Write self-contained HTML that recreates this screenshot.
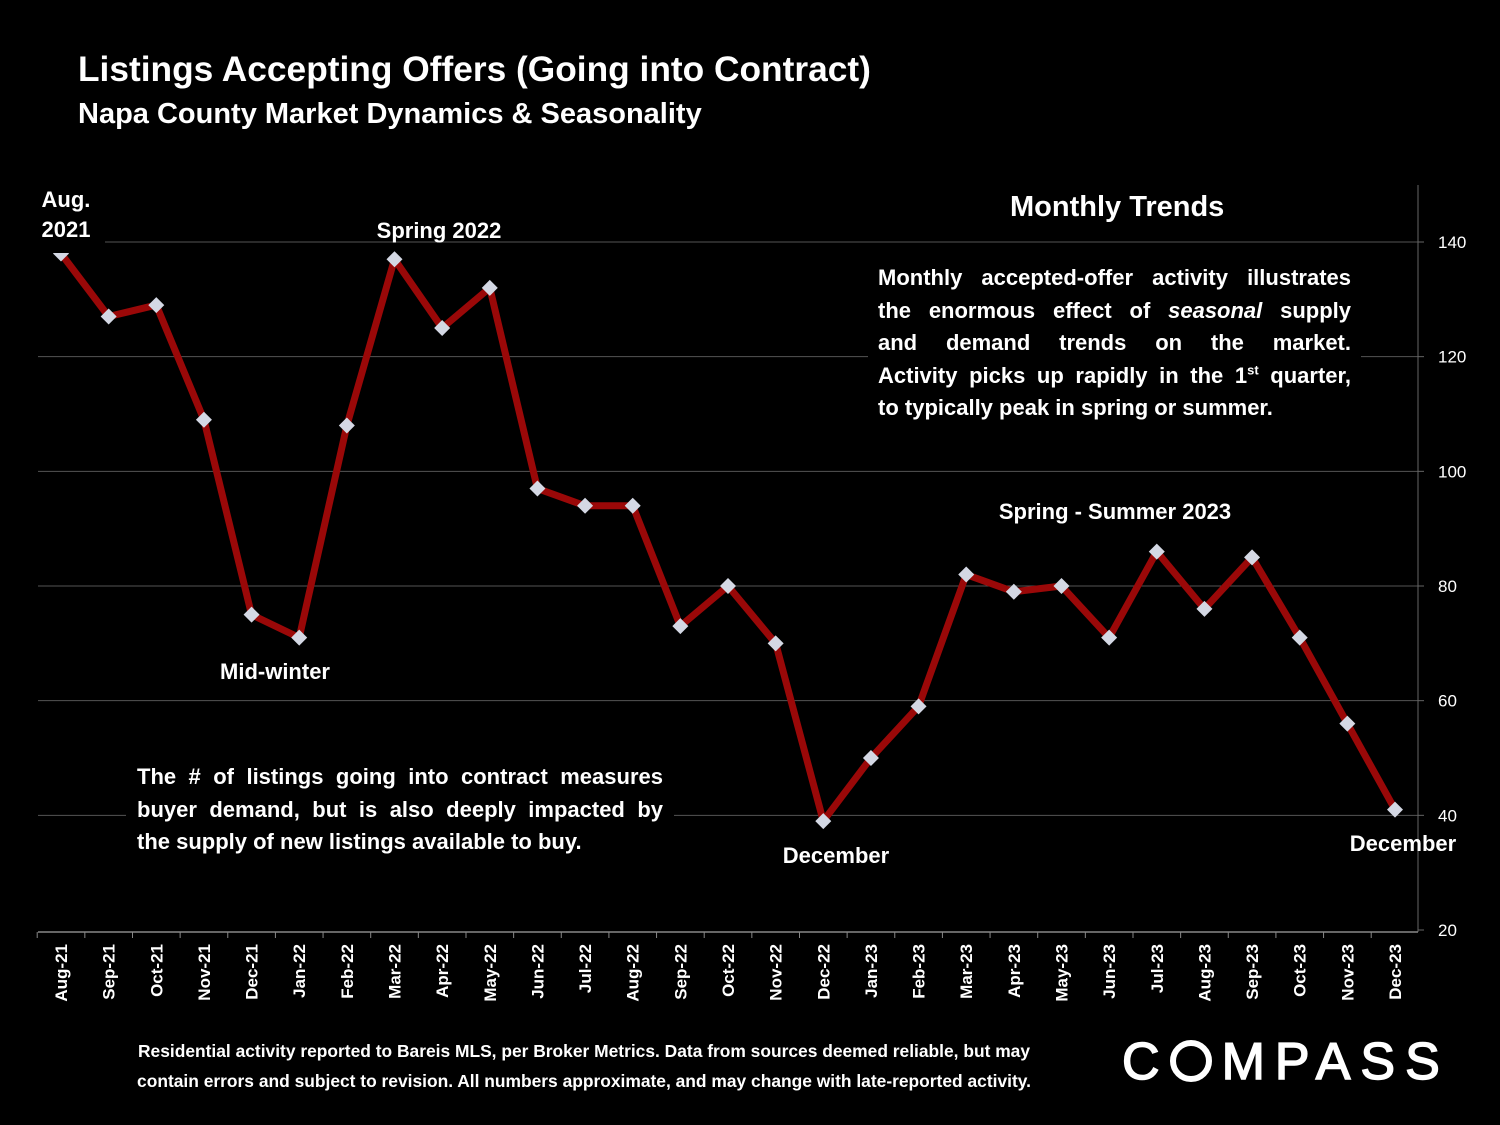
<!DOCTYPE html>
<html><head><meta charset="utf-8"><style>
html,body{margin:0;padding:0;background:#000;}
body{width:1500px;height:1125px;overflow:hidden;position:relative;font-family:"Liberation Sans",sans-serif;color:#fff;}
.t{position:absolute;font-weight:bold;white-space:nowrap;}
sup{line-height:0;}
.j{text-align:justify;text-align-last:justify;white-space:nowrap;}
.l{text-align:left;white-space:nowrap;}
</style></head><body>
<svg id="chart" width="1500" height="1125" style="position:absolute;left:0;top:0" xmlns="http://www.w3.org/2000/svg">
<g id="grid"></g>
<g id="axes"></g>
<g id="series"></g>
<g id="ann"></g>
</svg>
<div class="t" style="left:78px;top:50px;font-size:35.3px;">Listings Accepting Offers (Going into Contract)</div>
<div class="t" style="left:78px;top:98px;font-size:29px;">Napa County Market Dynamics &amp; Seasonality</div>
<div class="t" style="left:1010px;top:191px;font-size:29px;">Monthly Trends</div>
<div style="position:absolute;left:868px;top:262px;width:473px;padding:0 10px;background:#000;font-weight:bold;font-size:22px;line-height:32.5px;">
<div class="j">Monthly accepted-offer activity illustrates</div>
<div class="j">the enormous effect of <i>seasonal</i> supply</div>
<div class="j">and demand trends on the market.</div>
<div class="j">Activity picks up rapidly in the 1<sup style="font-size:13px">st</sup> quarter,</div>
<div class="l">to typically peak in spring or summer.</div>
</div>
<div style="position:absolute;left:126px;top:761px;width:526px;padding:0 11px;background:#000;font-weight:bold;font-size:22px;line-height:32.5px;">
<div class="j">The # of listings going into contract measures</div>
<div class="j">buyer demand, but is also deeply impacted by</div>
<div class="l">the supply of new listings available to buy.</div>
</div>
<div style="position:absolute;left:84px;top:1036px;width:1000px;text-align:center;font-weight:bold;font-size:17.4px;line-height:30px;white-space:nowrap;">Residential activity reported to Bareis MLS, per Broker Metrics. Data from sources deemed reliable, but may<br>contain errors and subject to revision. All numbers approximate, and may change with late-reported activity.</div>
<div style="position:absolute;left:1122px;top:1032px;font-size:52px;letter-spacing:10px;color:#fff;-webkit-text-stroke:1.5px #fff;font-family:'Liberation Sans',sans-serif;white-space:nowrap;">C<span style="display:inline-block;width:42px;height:42px;border:6px solid #fff;border-radius:50%;box-sizing:border-box;vertical-align:-3px;margin-right:10px;"></span>MPASS</div>
<script>
const months=["Aug-21","Sep-21","Oct-21","Nov-21","Dec-21","Jan-22","Feb-22","Mar-22","Apr-22","May-22","Jun-22","Jul-22","Aug-22","Sep-22","Oct-22","Nov-22","Dec-22","Jan-23","Feb-23","Mar-23","Apr-23","May-23","Jun-23","Jul-23","Aug-23","Sep-23","Oct-23","Nov-23","Dec-23"];
const values=[138,127,129,109,75,71,108,137,125,132,97,94,94,73,80,70,39,50,59,82,79,80,71,86,76,85,71,56,41];
const yTicks=[20,40,60,80,100,120,140];
const NS="http://www.w3.org/2000/svg";
const x=i=>61+i*(1395-61)/28;
const y=v=>930-(v-20)*(930-242)/120;
function mk(tag,attrs,parent){const e=document.createElementNS(NS,tag);for(const k in attrs)e.setAttribute(k,attrs[k]);parent.appendChild(e);return e;}
const grid=document.getElementById('grid'),axes=document.getElementById('axes'),ser=document.getElementById('series'),ann=document.getElementById('ann');
yTicks.forEach(v=>{
  if(v>20){const l=mk('line',{x1:38,x2:1418,y1:y(v),y2:y(v),stroke:'#555','stroke-width':1},grid);
  
  }
  const tk=mk('line',{x1:1418,x2:1424,y1:y(v),y2:y(v),stroke:'#666'},axes);
  
  
  const t=mk('text',{x:1438,y:y(v)+6,fill:'#fff','font-size':17,'font-family':'Liberation Sans, sans-serif'},axes);
  t.textContent=v;
  
  
});
const ya=mk('line',{x1:1418,x2:1418,y1:185,y2:932,stroke:'#666'},axes);


const xa=mk('line',{x1:38,x2:1418,y1:932,y2:932,stroke:'#888','stroke-width':1.5},axes);


months.forEach((m,i)=>{
  const b=x(i)-23.8;
  const tk=mk('line',{x1:b,x2:b,y1:932,y2:938,stroke:'#888'},axes);
  
  
  const t=mk('text',{x:0,y:0,fill:'#fff','font-size':17,'font-weight':'bold','font-family':'Liberation Sans, sans-serif','text-anchor':'end',transform:`translate(${x(i)+6},944) rotate(-90)`},axes);
  t.textContent=m;
  
  
});
const pl=mk('polyline',{points:values.map((v,i)=>x(i)+','+y(v)).join(' '),fill:'none',stroke:'#9a0808','stroke-width':7,'stroke-linejoin':'round'},ser);


values.forEach((v,i)=>{
  const cx=x(i),cy=y(v);
  const p=mk('polygon',{points:`${cx},${cy-8} ${cx+8},${cy} ${cx},${cy+8} ${cx-8},${cy}`,fill:'#d4d8e4'},ser);
  
  
});
const r=mk('rect',{x:30,y:185,width:75,height:68,fill:'#000'},ann);


const labels=[["Aug.",66,207],["2021",66,237],["Spring 2022",439,238],["Mid-winter",275,679],["December",836,863],["Spring - Summer 2023",1115,519],["December",1403,851]];
labels.forEach(l=>{
  const t=mk('text',{x:l[1],y:l[2],fill:'#fff','font-size':22,'font-weight':'bold','font-family':'Liberation Sans, sans-serif','text-anchor':'middle'},ann);
  t.textContent=l[0];
  
  
});
</script>
</body></html>
